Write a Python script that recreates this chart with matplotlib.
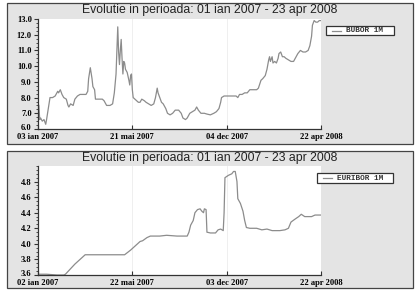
import matplotlib
matplotlib.use("Agg")
import matplotlib.pyplot as plt
import matplotlib.transforms as mtransforms
from matplotlib.patches import Rectangle
from matplotlib.ticker import MultipleLocator

title = "Evolutie in perioada: 01 ian 2007 - 23 apr 2008"

# ---- BUBOR 1M (trading-day index, value) ----
bubor_idx = [0, 1, 2, 3, 5, 7, 9, 10, 12, 14, 17, 20, 23, 24, 26, 28, 30, 33, 35, 36,
             38, 41, 43, 46, 49, 53, 56, 58, 59, 61, 63, 64, 66, 67, 71, 75, 77, 80, 84, 87,
             89, 91, 92, 93, 94, 95, 96, 97, 98, 99, 100, 101, 102, 104, 106, 107, 108, 109, 110, 111,
             113, 115, 117, 119, 121, 124, 126, 129, 132, 135, 137, 139, 140, 142, 144, 146, 149, 151, 154, 157,
             160, 164, 167, 169, 172, 174, 177, 180, 183, 185, 187, 190, 194, 197, 201, 205, 208, 211, 213, 214,
             217, 222, 228, 231, 233, 235, 238, 241, 244, 247, 251, 255, 257, 260, 262, 265, 267, 269, 270, 271,
             273, 274, 276, 278, 280, 281, 283, 285, 287, 289, 292, 295, 298, 300, 303, 306, 309, 312, 315, 317,
             319, 320, 322, 324, 326, 328, 330]
bubor_val = [7.6, 7.5, 6.6, 6.7, 6.5, 6.6, 6.3, 6.6, 7.3, 8.0, 8.0, 8.1, 8.4, 8.3, 8.5, 8.2, 8.0, 7.9, 7.5, 7.4,
             7.6, 7.5, 7.9, 8.1, 8.2, 8.2, 8.2, 8.4, 9.2, 9.9, 9.2, 8.7, 8.5, 7.9, 7.9, 7.9, 7.8, 7.5, 7.5, 7.6,
             8.3, 9.5, 11.0, 12.5, 10.9, 10.1, 11.0, 11.7, 10.5, 9.5, 10.3, 10.2, 9.8, 9.6, 9.1, 8.8, 9.4, 9.5, 8.5, 8.0,
             7.9, 7.8, 7.7, 7.7, 7.9, 7.8, 7.7, 7.6, 7.5, 7.6, 8.0, 8.6, 8.3, 8.0, 7.7, 7.6, 7.3, 7.0, 6.9, 7.0,
             7.2, 7.2, 7.0, 6.7, 6.6, 6.7, 7.0, 7.1, 7.2, 7.4, 7.2, 7.0, 7.0, 6.95, 6.9, 7.0, 7.1, 7.3, 7.7, 8.0,
             8.1, 8.1, 8.1, 8.1, 8.0, 8.2, 8.2, 8.3, 8.3, 8.5, 8.5, 8.5, 8.6, 9.1, 9.2, 9.4, 9.8, 10.4, 10.6, 10.3,
             10.6, 10.2, 10.3, 10.2, 10.5, 10.8, 10.9, 10.6, 10.6, 10.5, 10.4, 10.3, 10.3, 10.5, 10.8, 11.0, 10.9, 10.9, 11.0, 11.3,
             11.9, 12.6, 12.9, 12.8, 12.8, 12.9, 12.9]

# ---- EURIBOR 1M ----
euribor_idx = [0, 10, 22, 30, 32, 43, 55, 73, 88, 101, 108, 115, 119, 122, 127, 131, 142, 150, 162, 174,
               176, 178, 181, 183, 186, 189, 191, 193, 194, 196, 197, 201, 207, 210, 213, 216, 217, 218, 222, 226,
               228, 230, 232, 233, 236, 239, 241, 243, 247, 255, 261, 267, 273, 282, 288, 292, 295, 300, 304, 307,
               311, 319, 323, 330]
euribor_val = [3.61, 3.61, 3.60, 3.60, 3.61, 3.74, 3.86, 3.86, 3.86, 3.86, 3.92, 3.99, 4.03, 4.04, 4.08, 4.10, 4.10, 4.11, 4.10, 4.10,
               4.15, 4.24, 4.30, 4.40, 4.44, 4.45, 4.42, 4.40, 4.45, 4.44, 4.15, 4.14, 4.14, 4.18, 4.19, 4.17, 4.40, 4.85, 4.88, 4.90,
               4.93, 4.93, 4.80, 4.58, 4.52, 4.42, 4.30, 4.21, 4.20, 4.20, 4.18, 4.19, 4.17, 4.17, 4.18, 4.20, 4.28, 4.32, 4.35, 4.38,
               4.35, 4.35, 4.37, 4.37]

x_ticks = [0, 110, 220, 330]
top_labels = ["03 ian 2007", "21 mai 2007", "04 dec 2007", "22 apr 2008"]
bot_labels = ["02 ian 2007", "22 mai 2007", "03 dec 2007", "22 apr 2008"]
top_yticks = [6.0, 7.0, 8.0, 9.0, 10.0, 11.0, 12.0, 13.0]
bot_yticks = [3.6, 3.8, 4.0, 4.2, 4.4, 4.6, 4.8]

W, H = 418, 295
fig = plt.figure(figsize=(W / 100, H / 100), dpi=100)
fig.patch.set_facecolor("white")

panel_bg = "#e4e4e4"
line_col = "#8c8c8c"
tick_font = dict(family="Liberation Serif", weight="bold", size=6.1)


def fx(px):
    return px / W


def fy(py):
    return 1 - py / H


def panel(box, ax_box, idx, val, ylim, yticks, yminor, labels, legend_label, leg_box):
    bx0, by0, bx1, by1 = box
    fig.add_artist(Rectangle((fx(bx0), fy(by1)), fx(bx1 - bx0), (by1 - by0) / H,
                             transform=fig.transFigure, facecolor=panel_bg,
                             edgecolor="#444444", linewidth=0.9, zorder=-5))
    ax0, ay0, ax1, ay1 = ax_box
    ax = fig.add_axes([fx(ax0), fy(ay1), fx(ax1 - ax0), (ay1 - ay0) / H])
    ax.set_zorder(1)
    ax.set_facecolor("white")
    ax.plot(idx, val, color=line_col, linewidth=0.9)
    ax.set_xlim(0, 330)
    ax.set_xticks(x_ticks)
    ax.set_xticklabels(labels, **tick_font)
    ax.set_yticks(yticks)
    ax.set_yticklabels(["%.1f" % t for t in yticks], **tick_font)
    ax.yaxis.set_minor_locator(MultipleLocator(yminor))
    ax.set_ylim(*ylim)
    ax.tick_params(axis="x", direction="in", length=3, width=0.8, pad=3.2, color="#333333")
    ax.tick_params(axis="y", which="major", direction="out", length=3, width=0.8, pad=1.5, color="#333333")
    ax.tick_params(axis="y", which="minor", direction="out", length=1.5, width=0.6, color="#333333")
    # lift the lowest y label a little so it sits just above the first date label
    low = ax.get_yticklabels()[0]
    low.set_transform(low.get_transform() + mtransforms.ScaledTranslation(0, 1.6 / 72, fig.dpi_scale_trans))
    for s in ["top", "right"]:
        ax.spines[s].set_visible(False)
    for s in ["left", "bottom"]:
        ax.spines[s].set_color("#333333")
        ax.spines[s].set_linewidth(0.9)
    ax.grid(axis="x", color="#ececec", linewidth=0.6)
    ax.set_axisbelow(True)
    fig.text(fx((bx0 + bx1) / 2), fy(by0 + 7), title, ha="center", va="center",
             family="Liberation Sans", size=8.8, color="#222222", zorder=2)
    lx0, ly0, lx1, ly1 = leg_box
    fig.add_artist(Rectangle((fx(lx0), fy(ly1)), fx(lx1 - lx0), (ly1 - ly0) / H,
                             transform=fig.transFigure, facecolor="white",
                             edgecolor="#333333", linewidth=0.9, zorder=5))
    ym = fy((ly0 + ly1) / 2)
    fig.add_artist(plt.Line2D([fx(lx0 + 6), fx(lx0 + 15)], [ym, ym], color=line_col,
                              linewidth=0.9, transform=fig.transFigure, zorder=6))
    fig.text(fx(lx0 + 20), ym, legend_label, ha="left", va="center",
             family="Liberation Mono", weight="bold", size=5.6, color="#333333", zorder=6)
    return ax


panel((7, 3, 413, 144), (38, 19, 321, 129), bubor_idx, bubor_val, (6.0, 13.0), top_yticks, 0.25,
      top_labels, "BUBOR 1M", (326, 26, 394, 35))
panel((7, 151, 413, 288), (38, 166, 321, 275), euribor_idx, euribor_val, (3.6, 5.0), bot_yticks, 0.05,
      bot_labels, "EURIBOR 1M", (317, 173, 393, 183))

fig.savefig("out.png", dpi=100, facecolor="white")
